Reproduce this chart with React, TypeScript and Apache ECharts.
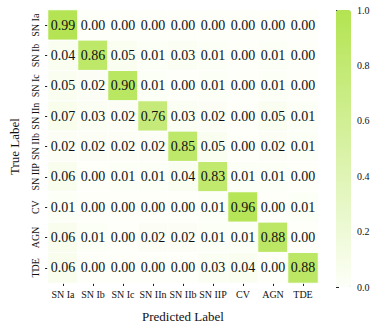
import React, { useEffect, useRef } from 'react';
import * as echarts from 'echarts';

const classes = ['SN Ia', 'SN Ib', 'SN Ic', 'SN IIn', 'SN IIb', 'SN IIP', 'CV', 'AGN', 'TDE'];

const rowSNIa = [0.99, 0.0, 0.0, 0.0, 0.0, 0.0, 0.0, 0.0, 0.0];
const rowSNIb = [0.04, 0.86, 0.05, 0.01, 0.03, 0.01, 0.0, 0.01, 0.0];
const rowSNIc = [0.05, 0.02, 0.9, 0.01, 0.0, 0.01, 0.0, 0.01, 0.0];
const rowSNIIn = [0.07, 0.03, 0.02, 0.76, 0.03, 0.02, 0.0, 0.05, 0.01];
const rowSNIIb = [0.02, 0.02, 0.02, 0.02, 0.85, 0.05, 0.0, 0.02, 0.01];
const rowSNIIP = [0.06, 0.0, 0.01, 0.01, 0.04, 0.83, 0.01, 0.01, 0.0];
const rowCV = [0.01, 0.0, 0.0, 0.0, 0.0, 0.01, 0.96, 0.0, 0.01];
const rowAGN = [0.06, 0.01, 0.0, 0.02, 0.02, 0.01, 0.01, 0.88, 0.0];
const rowTDE = [0.06, 0.0, 0.0, 0.0, 0.0, 0.03, 0.04, 0.0, 0.88];

const rows = [rowSNIa, rowSNIb, rowSNIc, rowSNIIn, rowSNIIb, rowSNIIP, rowCV, rowAGN, rowTDE];

const colorbarMin = 0;
const colorbarMax = 1;
const colorbarStep = 0.2;

const FONT = 'Liberation Serif';

export default function App() {
  const ref = useRef<HTMLDivElement>(null);

  useEffect(() => {
    if (!ref.current) return;
    const chart = echarts.init(ref.current, undefined, { renderer: 'svg' });
    const data: [number, number, number][] = [];
    rows.forEach((row, yi) => row.forEach((v, xi) => data.push([xi, yi, v])));

    chart.setOption({
      animation: false,
      backgroundColor: '#ffffff',
      textStyle: { fontFamily: FONT, color: '#111' },
      grid: [
        { left: 40, top: 10, width: 278, height: 277 },
        { left: 336, top: 10, width: 15, height: 277 },
      ],
      xAxis: [
        {
          type: 'category',
          gridIndex: 0,
          data: classes,
          position: 'bottom',
          axisLine: { show: false },
          axisTick: { show: true, alignWithLabel: true, interval: 0, length: 3, lineStyle: { color: '#222' } },
          axisLabel: { interval: 0, fontSize: 10, margin: 6, color: '#111', fontFamily: FONT },
          splitArea: { show: false },
          name: 'Predicted Label',
          nameLocation: 'middle',
          nameGap: 27,
          nameTextStyle: { fontSize: 13, color: '#111', fontFamily: FONT },
        },
        { type: 'value', gridIndex: 1, show: false, min: 0, max: 1 },
      ],
      yAxis: [
        {
          type: 'category',
          gridIndex: 0,
          data: classes,
          inverse: true,
          axisLine: { show: false },
          axisTick: { show: true, alignWithLabel: true, interval: 0, length: 3, lineStyle: { color: '#222' } },
          axisLabel: { interval: 0, fontSize: 10, margin: 13, rotate: 90, color: '#111', fontFamily: FONT, verticalAlign: 'middle', align: 'center' },
          splitArea: { show: false },
          name: 'True Label',
          nameLocation: 'middle',
          nameGap: 27,
          nameTextStyle: { fontSize: 13, color: '#111', fontFamily: FONT },
        },
        {
          type: 'value',
          gridIndex: 1,
          position: 'right',
          min: colorbarMin,
          max: colorbarMax,
          interval: colorbarStep,
          axisLine: { show: false },
          axisTick: { show: true, length: 3, lineStyle: { color: '#222' } },
          axisLabel: {
            fontSize: 10,
            margin: 6,
            color: '#111',
            fontFamily: FONT,
            formatter: (v: number) => v.toFixed(1),
          },
          splitLine: { show: false },
        },
      ],
      visualMap: {
        type: 'continuous',
        min: colorbarMin,
        max: colorbarMax,
        calculable: false,
        hoverLink: false,
        orient: 'vertical',
        left: 336,
        top: 10,
        padding: 0,
        itemWidth: 15,
        itemHeight: 277,
        text: ['', ''],
        seriesIndex: 0,
        inRange: { color: ['#fdfff8', '#b3e451'] },
      },
      series: [
        {
          type: 'heatmap',
          xAxisIndex: 0,
          yAxisIndex: 0,
          data,
          itemStyle: { borderColor: '#ffffff', borderWidth: 1 },
          label: {
            show: true,
            fontSize: 14,
            color: '#111',
            fontFamily: FONT,
            formatter: (p: any) => (p.value[2] as number).toFixed(2),
          },
        },
      ],
    });

    return () => chart.dispose();
  }, []);

  return (
    <div
      ref={ref}
      style={{ position: 'absolute', left: 0, top: 0, width: 377, height: 328 }}
    />
  );
}
